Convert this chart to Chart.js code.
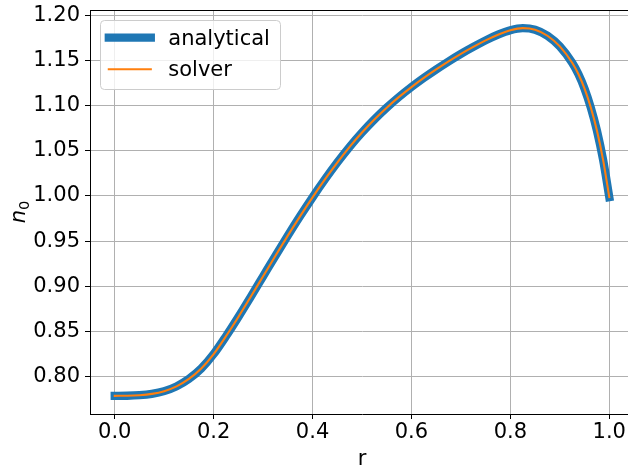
<!DOCTYPE html>
<html>
<head>
<meta charset="utf-8">
<script src="https://cdn.jsdelivr.net/npm/chart.js@4.4.1/dist/chart.umd.min.js"></script>
<style>
  html, body { margin: 0; padding: 0; background: #fff; }
  #wrap { width: 628px; height: 468px; overflow: hidden; position: relative; }
  #inner { width: 640px; height: 468px; }
</style>
</head>
<body>
<div id="wrap"><div id="inner"><canvas id="c" width="640" height="468"></canvas></div></div>
<script>
// ---- data ----
const rValues = [0, 0.025, 0.05, 0.075, 0.1, 0.125, 0.15, 0.175, 0.2, 0.225,
  0.25, 0.275, 0.3, 0.325, 0.35, 0.375, 0.4, 0.425, 0.45, 0.475,
  0.5, 0.525, 0.55, 0.575, 0.6, 0.625, 0.65, 0.675, 0.7, 0.725,
  0.75, 0.775, 0.8, 0.825, 0.85, 0.875, 0.9, 0.925, 0.9375, 0.95,
  0.9625, 0.975, 0.9875, 1.0];
const analytical = [0.7788, 0.7789, 0.7795, 0.7810, 0.7840, 0.7893, 0.7975, 0.8090, 0.8250, 0.8448,
  0.8661, 0.8884, 0.9111, 0.9338, 0.9561, 0.9777, 0.9985, 1.0183, 1.0370, 1.0544,
  1.0702, 1.0846, 1.0977, 1.1096, 1.1205, 1.1306, 1.1400, 1.1489, 1.1573, 1.1650,
  1.1722, 1.1785, 1.1834, 1.1857, 1.1840, 1.1773, 1.1655, 1.1474, 1.1349, 1.1187,
  1.0981, 1.0725, 1.0400, 0.9987];
const solver = [0.7788, 0.7789, 0.7795, 0.7810, 0.7840, 0.7893, 0.7975, 0.8090, 0.8250, 0.8448,
  0.8661, 0.8884, 0.9111, 0.9338, 0.9561, 0.9777, 0.9985, 1.0183, 1.0370, 1.0544,
  1.0702, 1.0846, 1.0977, 1.1096, 1.1205, 1.1306, 1.1400, 1.1489, 1.1573, 1.1650,
  1.1722, 1.1785, 1.1834, 1.1857, 1.1840, 1.1773, 1.1655, 1.1474, 1.1349, 1.1187,
  1.0981, 1.0725, 1.0400, 0.9987];
const seriesNames = ['analytical', 'solver'];
const xTickValues = [0, 0.2, 0.4, 0.6, 0.8, 1.0];
const xTickLabels = ['0.0', '0.2', '0.4', '0.6', '0.8', '1.0'];
const yTickValues = [0.80, 0.85, 0.90, 0.95, 1.00, 1.05, 1.10, 1.15, 1.20];
const yTickLabels = ['0.80', '0.85', '0.90', '0.95', '1.00', '1.05', '1.10', '1.15', '1.20'];
const xTitle = 'r';
const yTitleMain = 'n';
const yTitleSub = '0';

// ---- styling ----
const BLUE = '#1f77b4', ORANGE = '#ff7f0e';
const FONT = '"DejaVu Sans", "Liberation Sans", sans-serif';
const FS = 21;

const toPts = ys => rValues.map((x, i) => ({ x: x, y: ys[i] }));

const overlay = {
  id: 'overlay',
  afterDraw(chart) {
    const ctx = chart.ctx, a = chart.chartArea;
    ctx.save();
    // top spine
    ctx.strokeStyle = '#000';
    ctx.lineWidth = 1.1;
    ctx.beginPath();
    ctx.moveTo(a.left, a.top + 0.5);
    ctx.lineTo(a.right, a.top + 0.5);
    ctx.stroke();

    // legend
    const lx = a.left + 10.5, ly = a.top + 10.5, lw = 180, lh = 69, rr = 4;
    ctx.beginPath();
    ctx.moveTo(lx + rr, ly);
    ctx.lineTo(lx + lw - rr, ly);
    ctx.quadraticCurveTo(lx + lw, ly, lx + lw, ly + rr);
    ctx.lineTo(lx + lw, ly + lh - rr);
    ctx.quadraticCurveTo(lx + lw, ly + lh, lx + lw - rr, ly + lh);
    ctx.lineTo(lx + rr, ly + lh);
    ctx.quadraticCurveTo(lx, ly + lh, lx, ly + lh - rr);
    ctx.lineTo(lx, ly + rr);
    ctx.quadraticCurveTo(lx, ly, lx + rr, ly);
    ctx.closePath();
    ctx.fillStyle = 'rgba(255,255,255,0.8)';
    ctx.fill();
    ctx.strokeStyle = '#cccccc';
    ctx.lineWidth = 1;
    ctx.stroke();

    const hx0 = lx + 8.3, hx1 = hx0 + 42;
    const rows = [
      { name: seriesNames[0], color: BLUE, w: 8.3, y: ly + 17.2 },
      { name: seriesNames[1], color: ORANGE, w: 2.1, y: ly + 48.8 }
    ];
    ctx.lineCap = 'square';
    rows.forEach(r => {
      ctx.strokeStyle = r.color;
      ctx.lineWidth = r.w;
      ctx.beginPath();
      ctx.moveTo(hx0, r.y);
      ctx.lineTo(hx1, r.y);
      ctx.stroke();
      ctx.fillStyle = '#000';
      ctx.font = FS + 'px ' + FONT;
      ctx.textBaseline = 'alphabetic';
      ctx.textAlign = 'left';
      ctx.fillText(r.name, hx1 + 17.5, r.y + 6.8);
    });

    // x title
    ctx.fillStyle = '#000';
    ctx.font = FS + 'px ' + FONT;
    ctx.textAlign = 'center';
    ctx.textBaseline = 'alphabetic';
    ctx.fillText(xTitle, (a.left + a.right) / 2, 465);

    // y title: italic n with subscript 0, rotated
    ctx.save();
    ctx.translate(25, (a.top + a.bottom) / 2);
    ctx.rotate(-Math.PI / 2);
    ctx.font = 'italic ' + FS + 'px ' + FONT;
    const wMain = ctx.measureText(yTitleMain).width;
    ctx.font = (FS * 0.7) + 'px ' + FONT;
    const wSub = ctx.measureText(yTitleSub).width;
    const x0 = -(wMain + wSub) / 2;
    ctx.textAlign = 'left';
    ctx.font = 'italic ' + FS + 'px ' + FONT;
    ctx.fillText(yTitleMain, x0, 0);
    ctx.font = (FS * 0.7) + 'px ' + FONT;
    ctx.fillText(yTitleSub, x0 + wMain, 3.5);
    ctx.restore();

    ctx.restore();
  }
};

new Chart(document.getElementById('c'), {
  type: 'line',
  data: {
    datasets: [
      {
        label: seriesNames[0], data: toPts(analytical),
        borderColor: BLUE, borderWidth: 8.3, borderCapStyle: 'square', borderJoinStyle: 'round',
        pointRadius: 0, cubicInterpolationMode: 'monotone', fill: false, order: 1
      },
      {
        label: seriesNames[1], data: toPts(solver),
        borderColor: ORANGE, borderWidth: 2.1, borderCapStyle: 'square', borderJoinStyle: 'round',
        pointRadius: 0, cubicInterpolationMode: 'monotone', fill: false, order: 0
      }
    ]
  },
  options: {
    responsive: false,
    animation: false,
    devicePixelRatio: 1,
    layout: { padding: { left: 0, top: 10, right: 6, bottom: 0 } },
    plugins: { legend: { display: false }, tooltip: { enabled: false } },
    scales: {
      x: {
        type: 'linear', min: -0.05, max: 1.05,
        afterBuildTicks: s => { s.ticks = xTickValues.map(v => ({ value: v })); },
        afterFit: s => { s.height = 54; s.paddingLeft = 0; s.paddingRight = 0; s.paddingTop = 0; s.paddingBottom = 0; },
        ticks: {
          callback: (v, i) => xTickLabels[i],
          font: { family: FONT, size: FS }, color: '#000', padding: 1, maxRotation: 0, autoSkip: false
        },
        grid: { color: '#b0b0b0', lineWidth: 1, tickColor: '#000', tickLength: 5, drawTicks: true },
        border: { color: '#000', width: 1 }
      },
      y: {
        type: 'linear', min: 0.7587, max: 1.2058,
        afterBuildTicks: s => { s.ticks = yTickValues.map(v => ({ value: v })); },
        afterFit: s => { s.width = 90; s.paddingLeft = 0; s.paddingRight = 0; s.paddingTop = 0; s.paddingBottom = 0; },
        ticks: {
          callback: (v, i) => yTickLabels[i],
          font: { family: FONT, size: FS }, color: '#000', padding: 5, autoSkip: false
        },
        grid: { color: '#b0b0b0', lineWidth: 1, tickColor: '#000', tickLength: 5, drawTicks: true },
        border: { color: '#000', width: 1 }
      }
    }
  },
  plugins: [overlay]
});
</script>
</body>
</html>
